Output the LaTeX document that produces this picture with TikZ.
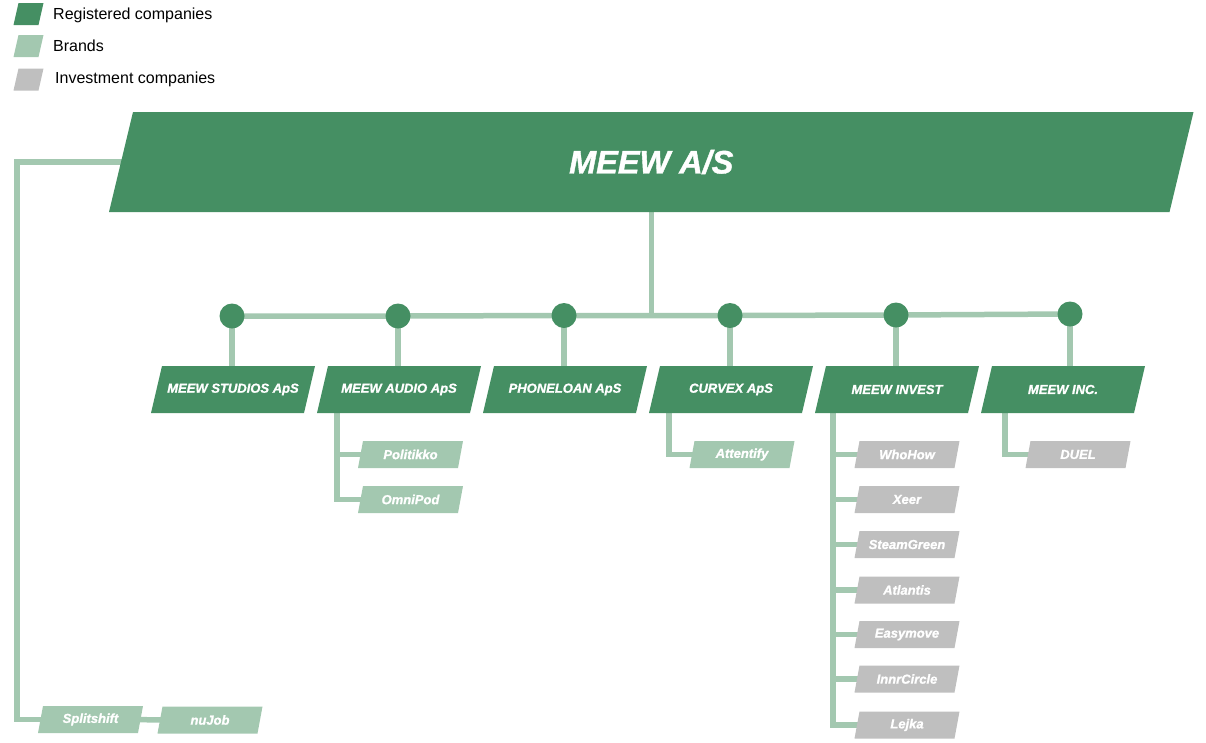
\documentclass[tikz,border=0pt]{standalone}
\usepackage{fontspec}
\setmainfont{Liberation Sans}[BoldItalicFeatures={FakeBold=1.2}]
\usetikzlibrary{calc}
\pgfdeclarelayer{bg}
\pgfsetlayers{bg,main}
\definecolor{dgreen}{HTML}{458F63}
\definecolor{lgreen}{HTML}{A3C8B0}
\definecolor{lgray}{HTML}{BFBFBF}
% name, x, y, mean width, height, slant, fill colour, node style, text
\newcommand\pgram[9]{%
  \fill[#7] ({#2-#4/2+#6/2},{#3-#5/2}) -- ({#2+#4/2+#6/2},{#3-#5/2}) --
            ({#2+#4/2-#6/2},{#3+#5/2}) -- ({#2-#4/2-#6/2},{#3+#5/2}) -- cycle;
  \node[#8, minimum width={#4-#6}, minimum height=#5] (#1) at (#2,#3) {#9};
}
\tikzset{
  conn/.style={draw=lgreen, line width=5.5pt},
  lbl/.style={text=white, font=\bfseries\itshape\fontsize{13}{15}\selectfont, inner sep=0pt},
  ttl/.style={text=white, font=\bfseries\itshape\fontsize{32.5}{38}\selectfont, inner sep=0pt},
  dot/.style={circle, fill=dgreen, minimum size=25pt, inner sep=0pt},
  legtxt/.style={font=\fontsize{16}{19}\selectfont, anchor=west, inner sep=0pt, text=black},
  plain/.style={inner sep=0pt}
}
\begin{document}
\begin{tikzpicture}[x=1pt,y=-1pt]
\useasboundingbox (0,0) rectangle (1206,742);

% legend
\pgram{lg1}{28.5}{14}{25}{22}{5}{dgreen}{plain}{}
\pgram{lg2}{28.5}{46}{25}{22}{5}{lgreen}{plain}{}
\pgram{lg3}{28.5}{79.5}{25}{22}{5}{lgray}{plain}{}
\node[legtxt] (lt1) at (53,15.5) {Registered companies};
\node[legtxt] (lt2) at (53,46) {Brands};
\node[legtxt] (lt3) at (55,79.5) {Investment companies};

% main box
\pgram{main}{651.25}{162}{1060.5}{100}{24}{dgreen}{ttl}{MEEW A/S}

% bus dots
\node[dot] (c1) at (232,316) {};
\node[dot] (c2) at (398,316) {};
\node[dot] (c3) at (564,315.5) {};
\node[dot] (c4) at (730,315.5) {};
\node[dot] (c5) at (896,315) {};
\node[dot] (c6) at (1070,314) {};

% level 1
\pgram{studios}{233}{389.5}{153}{47}{11}{dgreen}{lbl}{MEEW STUDIOS ApS}
\pgram{audio}{399}{389.5}{153}{47}{11}{dgreen}{lbl}{MEEW AUDIO ApS}
\pgram{phone}{565}{389.5}{153}{47}{11}{dgreen}{lbl}{PHONELOAN ApS}
\pgram{curvex}{731}{389.5}{153}{47}{11}{dgreen}{lbl}{CURVEX ApS}
\pgram{invest}{897}{389.5}{153}{47}{11}{dgreen}{lbl}{MEEW INVEST}
\pgram{inc}{1063}{389.5}{153}{47}{11}{dgreen}{lbl}{MEEW INC.}

% brands
\pgram{poli}{410.5}{454.5}{100}{27}{5}{lgreen}{lbl}{Politikko}
\pgram{omni}{410.5}{499.5}{100}{27}{5}{lgreen}{lbl}{OmniPod}
\pgram{attn}{742}{454.5}{100}{27}{5}{lgreen}{lbl}{Attentify}
\pgram{split}{90.5}{719.5}{100}{27}{5}{lgreen}{lbl}{Splitshift}
\pgram{nujob}{210}{720}{100}{27}{5}{lgreen}{lbl}{nuJob}

% investments
\pgram{who}{907}{454.5}{100}{27}{5}{lgray}{lbl}{WhoHow}
\pgram{xeer}{907}{499.5}{100}{27}{5}{lgray}{lbl}{Xeer}
\pgram{steam}{907}{544.5}{100}{27}{5}{lgray}{lbl}{SteamGreen}
\pgram{atl}{907}{590}{100}{27}{5}{lgray}{lbl}{Atlantis}
\pgram{easy}{907}{634.5}{100}{27}{5}{lgray}{lbl}{Easymove}
\pgram{innr}{907}{679}{100}{27}{5}{lgray}{lbl}{InnrCircle}
\pgram{lejka}{907}{725}{100}{27}{5}{lgray}{lbl}{Lejka}
\pgram{duel}{1078}{454.5}{100}{27}{5}{lgray}{lbl}{DUEL}

% connectors
\coordinate (lx) at (17,162);
\coordinate (ta) at (337,0);
\coordinate (tc) at (669,0);
\coordinate (ti) at (833,0);
\coordinate (tn) at (1005,0);
\begin{pgfonlayer}{bg}
  \draw[conn] (main.center) -- (lx) |- (split.center);
  \draw[conn] (split.center) -- (nujob.center);
  \draw[conn] (main.center) -- (main.center |- c3.center);
  \draw[conn] (c1.center) -- (c2.center) -- (c3.center) -- (c4.center) -- (c5.center) -- (c6.center);
  \draw[conn] (c1.center) -- (c1.center |- studios.north);
  \draw[conn] (c2.center) -- (c2.center |- audio.north);
  \draw[conn] (c3.center) -- (c3.center |- phone.north);
  \draw[conn] (c4.center) -- (c4.center |- curvex.north);
  \draw[conn] (c5.center) -- (c5.center |- invest.north);
  \draw[conn] (c6.center) -- (c6.center |- inc.north);
  % audio brands
  \draw[conn] (audio.south -| ta) |- (omni.center);
  \draw[conn] (ta |- poli.center) -- (poli.center);
  % curvex brand
  \draw[conn] (curvex.south -| tc) |- (attn.center);
  % invest
  \draw[conn] (invest.south -| ti) |- (lejka.center);
  \draw[conn] (ti |- who.center) -- (who.center);
  \draw[conn] (ti |- xeer.center) -- (xeer.center);
  \draw[conn] (ti |- steam.center) -- (steam.center);
  \draw[conn] (ti |- atl.center) -- (atl.center);
  \draw[conn] (ti |- easy.center) -- (easy.center);
  \draw[conn] (ti |- innr.center) -- (innr.center);
  % inc
  \draw[conn] (inc.south -| tn) |- (duel.center);
\end{pgfonlayer}
\end{tikzpicture}
\end{document}
